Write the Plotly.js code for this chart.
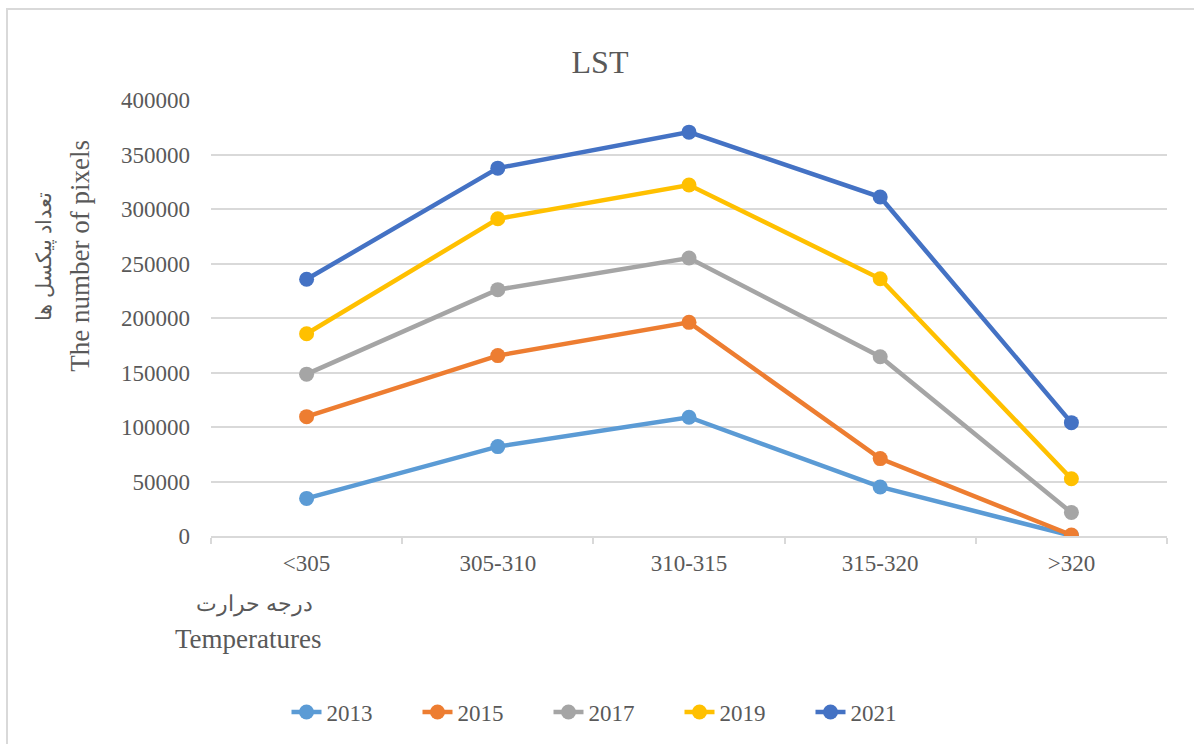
<!DOCTYPE html>
<html>
<head>
<meta charset="utf-8">
<script src="https://cdn.plot.ly/plotly-3.0.1.min.js"></script>
<style>
  html, body { margin: 0; padding: 0; background: #ffffff; overflow: hidden; }
  #wrap { position: relative; width: 1194px; height: 744px; }
  #frame { position: absolute; left: 6px; top: 8px; width: 1300px; height: 900px;
           border: 2px solid #d9d9d9; box-sizing: border-box; pointer-events: none; }
  #chart { position: absolute; left: 0; top: 0; width: 1194px; height: 744px; }
</style>
</head>
<body>
<div id="wrap">
  <div id="frame"></div>
  <div id="chart"></div>
</div>
<script>
const categories = ["<305", "305-310", "310-315", "315-320", ">320"];
const seriesNames = ["2013", "2015", "2017", "2019", "2021"];
const values2013 = [34500, 82000, 109000, 45000, 300];
const values2015 = [109500, 165500, 196000, 71000, 900];
const values2017 = [148500, 226000, 255000, 164500, 21500];
const values2019 = [185500, 291000, 322000, 236000, 52500];
const values2021 = [235500, 337500, 370500, 311000, 104000];
const seriesValues = [values2013, values2015, values2017, values2019, values2021];
const seriesColors = ["#5B9BD5", "#ED7D31", "#A5A5A5", "#FFC000", "#4472C4"];
const yTicks = [0, 50000, 100000, 150000, 200000, 250000, 300000, 350000, 400000];

const serif = "'Liberation Serif', 'Times New Roman', 'DejaVu Serif', serif";
const textColor = "#595959";

const traces = seriesNames.map((name, i) => ({
  type: "scatter",
  mode: "lines+markers",
  name: name,
  x: categories,
  y: seriesValues[i],
  line: { color: seriesColors[i], width: 4.5 },
  marker: { color: seriesColors[i], size: 15 },
  hoverinfo: "x+y+name"
}));

const W = 1194, H = 744;
const L = 211, R = 27, T = 100, B = 207;
const plotW = W - L - R, plotH = H - T - B;
const px = x => (x - L) / plotW;
const py = y => (H - B - y) / plotH;

const layout = {
  width: W, height: H,
  paper_bgcolor: "rgba(0,0,0,0)",
  plot_bgcolor: "rgba(0,0,0,0)",
  margin: { l: L, r: R, t: T, b: B, pad: 0 },
  font: { family: serif, color: textColor, size: 23 },
  title: {
    text: "LST",
    font: { family: serif, size: 32, color: textColor },
    x: 600 / W, xanchor: "center", xref: "container",
    y: 1 - 62 / H, yanchor: "middle", yref: "container"
  },
  showlegend: true,
  legend: {
    orientation: "h",
    x: px(614), xanchor: "center",
    y: py(712), yanchor: "middle",
    font: { family: serif, size: 23, color: textColor },
    entrywidth: 86,
    entrywidthmode: "pixels",
    tracegroupgap: 0,
    bgcolor: "rgba(0,0,0,0)"
  },
  xaxis: {
    type: "category",
    range: [-0.5, 4.5],
    showgrid: false,
    showline: true,
    linecolor: "#d9d9d9",
    linewidth: 1.5,
    ticks: "outside",
    tickson: "boundaries",
    ticklen: 6,
    tickcolor: "#d9d9d9",
    tickwidth: 1.5,
    ticklabelstandoff: 6,
    tickfont: { family: serif, size: 23, color: textColor },
    zeroline: false,
    fixedrange: true
  },
  yaxis: {
    range: [0, 400000],
    tickmode: "array",
    tickvals: yTicks,
    ticktext: yTicks.map(v => String(v)),
    showgrid: true,
    gridcolor: "#d9d9d9",
    gridwidth: 1.5,
    showline: false,
    zeroline: false,
    ticks: "",
    ticklabelstandoff: 20,
    tickfont: { family: serif, size: 23, color: textColor },
    fixedrange: true
  },
  annotations: [
    {
      text: "تعداد پیکسل ها",
      xref: "paper", yref: "paper",
      x: px(45), y: py(257),
      xanchor: "center", yanchor: "middle",
      textangle: -90, showarrow: false,
      font: { family: serif, size: 21, color: textColor }
    },
    {
      text: "The number of pixels",
      xref: "paper", yref: "paper",
      x: px(80), y: py(256),
      xanchor: "center", yanchor: "middle",
      textangle: -90, showarrow: false,
      font: { family: serif, size: 27, color: textColor }
    },
    {
      text: "درجه حرارت",
      xref: "paper", yref: "paper",
      x: px(254), y: py(605),
      xanchor: "center", yanchor: "middle",
      showarrow: false,
      font: { family: serif, size: 22, color: textColor }
    },
    {
      text: "Temperatures",
      xref: "paper", yref: "paper",
      x: px(248), y: py(640),
      xanchor: "center", yanchor: "middle",
      showarrow: false,
      font: { family: serif, size: 27, color: textColor }
    }
  ]
};

Plotly.newPlot("chart", traces, layout, { displayModeBar: false, responsive: false });
</script>
</body>
</html>
